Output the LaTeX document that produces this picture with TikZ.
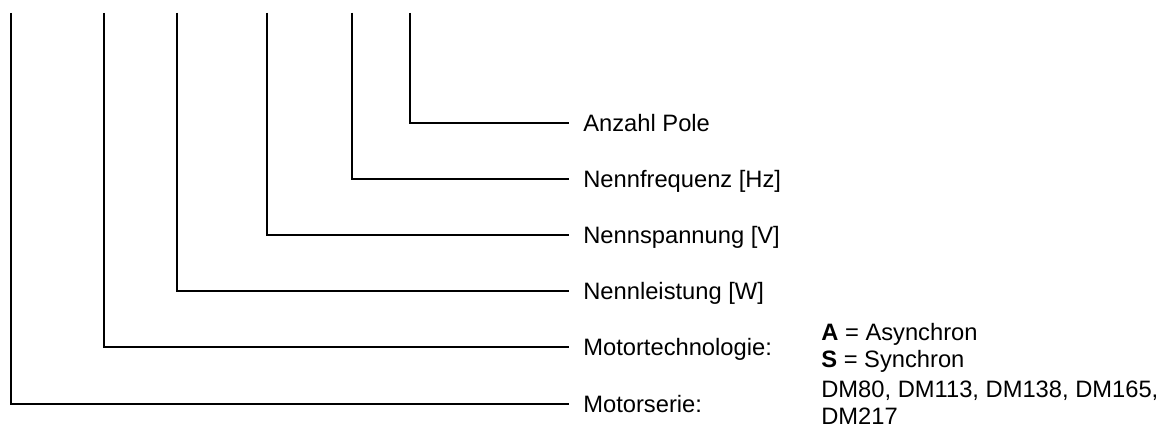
\documentclass[tikz,border=0pt]{standalone}
\usepackage{fontspec}
\setmainfont{Liberation Sans}
\usetikzlibrary{positioning}

\begin{document}
\begin{tikzpicture}[
        x = 0.02cm, y = -0.02cm,
        every node/.style = {font = \fontsize{13.5}{15.6}\selectfont},
        heavy/.style = {line width = 1.15pt},
        light/.style = {line width = 0.75pt},
        caption/.style = {anchor = west, inner xsep = 0.28cm, inner ysep = 0pt,
                          text height = 0.34cm, text depth = 0pt},
        value/.style = {anchor = west, inner sep = 0pt, align = left}
    ]

    \useasboundingbox (0,0) rectangle (1173,428);

    % captions at the right ends of the leads
    \node[caption] (pole)  at (569,123) {Anzahl Pole};
    \node[caption] (freq)  at (569,179) {Nennfrequenz [Hz]};
    \node[caption] (spann) at (569,235) {Nennspannung [V]};
    \node[caption] (leist) at (569,291) {Nennleistung [W]};
    \node[caption] (tech)  at (569,347) {Motortechnologie:};
    \node[caption] (serie) at (569,404) {Motorserie:};

    \node[value] (techval)  at (821,348) {\textbf{A} = Asynchron\\\textbf{S} = Synchron};
    \node[value] (serieval) at (821,403) {DM80, DM113, DM138, DM165,\\DM217};

    % upper ends of the leads
    \coordinate (serie top) at (11,13);
    \coordinate (tech top)  at (104,13);
    \coordinate (leist top) at (177,13);
    \coordinate (spann top) at (267,13);
    \coordinate (freq top)  at (352,13);
    \coordinate (pole top)  at (410,13);

    \draw[heavy] (serie top) |- (serie.west);
    \draw[heavy] (tech top)  |- (tech.west);
    \draw[light] (leist top) |- (leist.west);
    \draw[light] (spann top) |- (spann.west);
    \draw[light] (freq top)  |- (freq.west);
    \draw[light] (pole top)  |- (pole.west);

    % heavier upper parts
    \draw[heavy] (leist top) -- ++(0,194);
    \draw[heavy] (spann top) -- ++(0,139);
    \draw[heavy] (freq top)  -- ++(0,83);

\end{tikzpicture}
\end{document}
